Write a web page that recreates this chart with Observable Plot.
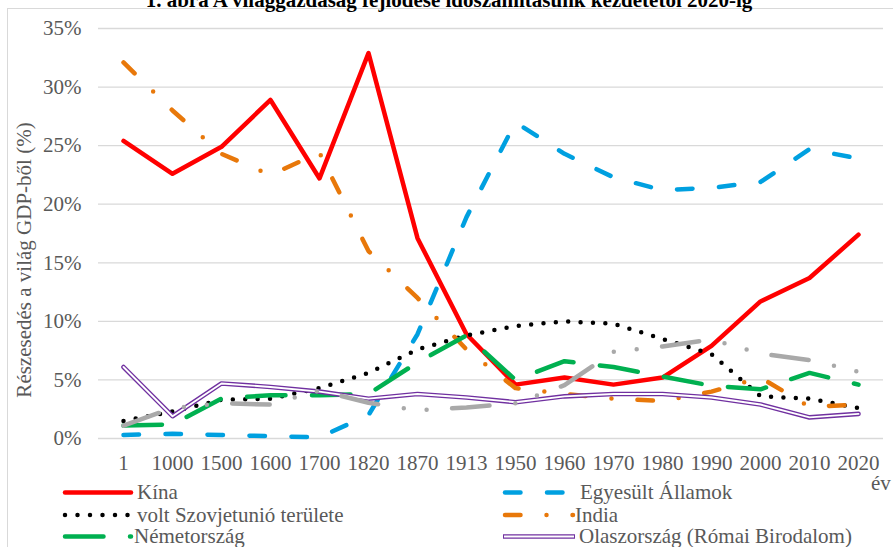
<!DOCTYPE html>
<html>
<head>
<meta charset="utf-8">
<script src="https://cdn.jsdelivr.net/npm/d3@7"></script>
<script src="https://cdn.jsdelivr.net/npm/@observablehq/plot@0.6"></script>
<style>
  html, body { margin: 0; padding: 0; background: #fff; }
  #wrap { position: relative; width: 893px; height: 547px; overflow: hidden; background: #fff; font-family: "Liberation Serif", "Times New Roman", serif; }
  #frame { position: absolute; left: 7px; top: 8px; width: 950px; height: 600px; border-left: 1.3px solid #d9d9d9; border-top: 1.3px solid #d9d9d9; box-sizing: border-box; }
  #chart { position: absolute; left: 0; top: 0; }
  #overlay { position: absolute; left: 0; top: 0; }
  #overlay text { font-family: "Liberation Serif", "Times New Roman", serif; }
</style>
</head>
<body>
<div id="wrap">
  <div id="frame"></div>
  <div id="chart"></div>
  <svg id="overlay" width="893" height="547"></svg>
</div>
<script>
// ---- DATA (share of world GDP, %) ----
const categories = ["1","1000","1500","1600","1700","1820","1870","1913","1950","1960","1970","1980","1990","2000","2010","2020"];
const kina     = [25.4, 22.6, 24.9, 28.9, 22.2, 32.9, 17.1, 8.9, 4.6, 5.2, 4.6, 5.2, 7.9, 11.7, 13.7, 17.4];
const usa      = [0.3, 0.4, 0.3, 0.2, 0.1, 2.0, 8.9, 18.9, 27.0, 24.3, 22.3, 21.2, 21.4, 21.9, 24.7, 23.9];
const szovjet  = [1.5, 2.3, 3.3, 3.4, 4.3, 5.6, 7.6, 8.8, 9.6, 10.0, 9.8, 8.5, 7.2, 3.6, 3.4, 2.6];
const india    = [32.1, 28.0, 24.3, 22.5, 24.4, 16.0, 12.0, 7.6, 4.3, 3.8, 3.4, 3.2, 4.0, 5.2, 2.7, 2.9];
const nemet    = [1.1, 1.2, 3.4, 3.7, 3.7, 3.8, 6.5, 8.8, 5.0, 6.6, 6.1, 5.3, 4.5, 4.2, 5.6, 4.6];
const olasz    = [6.1, 1.9, 4.7, 4.4, 4.0, 3.4, 3.8, 3.5, 3.1, 3.6, 3.8, 3.8, 3.5, 2.9, 1.8, 2.1];
const japan    = [1.1, 2.6, 3.0, 2.9, 4.1, 3.05, 2.4, 2.65, 3.0, 4.55, 7.4, 7.85, 8.45, 7.25, 6.7, 5.7];

const yTicks = [0, 5, 10, 15, 20, 25, 30, 35];
const titleText = "1. ábra A világgazdaság fejlődése időszámításunk kezdetétől 2020-ig";
const yTitle = "Részesedés a világ GDP-ből (%)";
const xTitle = "év";
const legendNames = ["Kína", "Egyesült Államok", "volt Szovjetunió területe", "India", "Németország", "Olaszország (Római Birodalom)"];

// ---- STYLES ----
const series = [
  {key: "kina",    values: kina,    color: "#FF0000", dash: null},
  {key: "usa",     values: usa,     color: "#00A0E0", dash: "15.5,26.5"},
  {key: "szovjet", values: szovjet, color: "#000000", dash: "0,12.4"},
  {key: "india",   values: india,   color: "#E8780A", dash: "15.5,26,0,26"},
  {key: "nemet",   values: nemet,   color: "#00B050", dash: "38.5,26.5"},
  {key: "olasz",   values: olasz,   color: "#7030A0", dash: null, double: true},
  {key: "japan",   values: japan,   color: "#A9A9A9", dash: "37.5,26,0,23,0,25.5"}
];

const marks = [
  Plot.gridY(yTicks, {stroke: "#d9d9d9", strokeOpacity: 1, strokeWidth: 1.3}),
  Plot.axisY(yTicks, {tickSize: 0, tickPadding: 17, tickFormat: d => d + "%", label: null}),
  Plot.axisX({tickSize: 0, tickPadding: 17, label: null})
];
for (const s of series) {
  const data = categories.map((c, i) => ({cat: c, v: s.values[i]}));
  if (s.double) {
    marks.push(Plot.line(data, {x: "cat", y: "v", stroke: s.color, strokeWidth: 4.6, strokeLinejoin: "round"}));
    marks.push(Plot.line(data, {x: "cat", y: "v", stroke: "#ffffff", strokeWidth: 1.9, strokeLinejoin: "round"}));
  } else {
    marks.push(Plot.line(data, {x: "cat", y: "v", stroke: s.color, strokeWidth: 4.5,
      strokeDasharray: s.dash || undefined, strokeLinecap: "round", strokeLinejoin: "round"}));
  }
}

const chart = Plot.plot({
  width: 893,
  height: 480,
  marginLeft: 98,
  marginRight: 10,
  marginTop: 28,
  marginBottom: 42,
  x: {type: "point", domain: categories, padding: 0.5},
  y: {domain: [0, 35]},
  style: {fontFamily: "'Liberation Serif', 'Times New Roman', serif", fontSize: "21px", color: "#595959", background: "transparent", overflow: "visible"},
  marks
});
document.getElementById("chart").appendChild(chart);

// ---- OVERLAY: title, axis titles, legend ----
const ov = d3.select("#overlay");
ov.append("text").attr("x", 449).attr("y", 7).attr("text-anchor", "middle")
  .attr("font-weight", "bold").attr("font-size", 21)
  .attr("fill", "#000").text(titleText);
ov.append("text").attr("transform", "translate(31,260) rotate(-90)").attr("text-anchor", "middle")
  .attr("font-size", 21).attr("fill", "#595959").text(yTitle);
ov.append("text").attr("x", 871).attr("y", 490)
  .attr("font-size", 21).attr("fill", "#595959").text(xTitle);

const legendPos = [
  {x1: 65, x2: 131, tx: 137, y: 492.5},
  {x1: 505, x2: 573, tx: 580, y: 492.5},
  {x1: 65, x2: 131, tx: 137, y: 515},
  {x1: 505, x2: 573, tx: 575, y: 515},
  {x1: 65, x2: 131, tx: 134, y: 536.5},
  {x1: 505, x2: 573, tx: 579, y: 536.5}
];
legendNames.forEach((name, i) => {
  const s = series[i], p = legendPos[i];
  if (s.double) {
    ov.append("line").attr("x1", p.x1 - 2).attr("x2", p.x2 + 2).attr("y1", p.y).attr("y2", p.y)
      .attr("stroke", s.color).attr("stroke-width", 4.6);
    ov.append("line").attr("x1", p.x1 - 1).attr("x2", p.x2 + 1).attr("y1", p.y).attr("y2", p.y)
      .attr("stroke", "#fff").attr("stroke-width", 1.9);
  } else {
    const ln = ov.append("line").attr("x1", p.x1).attr("x2", p.x2).attr("y1", p.y).attr("y2", p.y)
      .attr("stroke", s.color).attr("stroke-width", 4.5).attr("stroke-linecap", "round");
    if (s.dash) ln.attr("stroke-dasharray", s.key === "szovjet" ? "0,12.5" : s.dash);
  }
  ov.append("text").attr("x", p.tx).attr("y", p.y + 6.5)
    .attr("font-size", 21).attr("fill", "#595959").text(name);
});
</script>
</body>
</html>
